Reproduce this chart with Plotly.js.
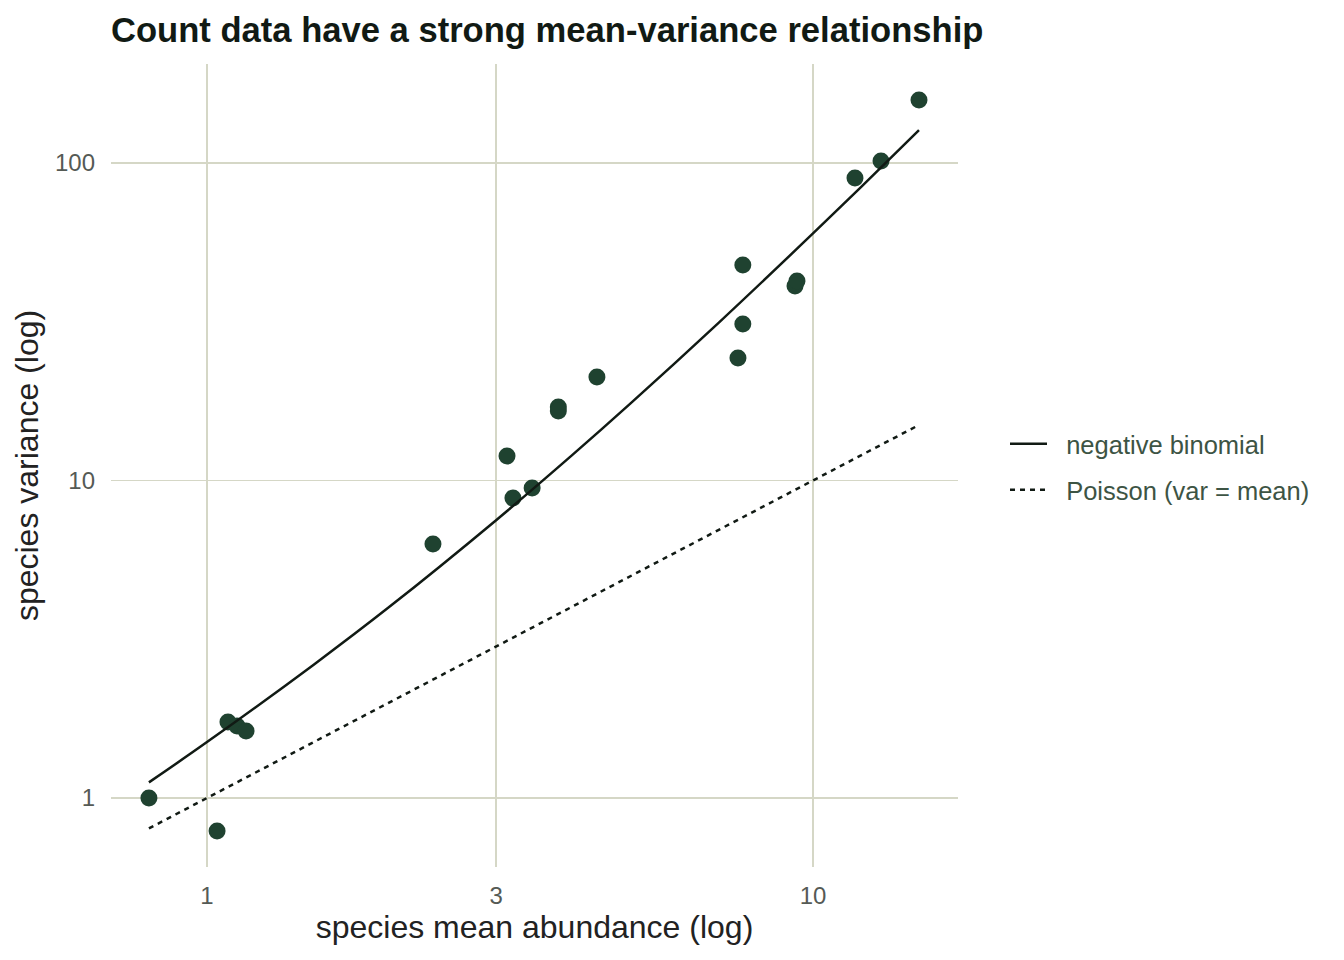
<!DOCTYPE html>
<html>
<head>
<meta charset="utf-8">
<script src="https://cdn.plot.ly/plotly-3.0.1.min.js"></script>
<style>html,body{margin:0;padding:0;background:#fff;}#chart{width:1344px;height:960px;}</style>
</head>
<body>
<div id="chart"></div>
<script>
// Observed species (mean, variance)
const speciesMean = [0.802, 1.039, 1.083, 1.121, 1.160, 2.36, 3.127, 3.198, 3.44, 3.80, 3.80, 4.40, 7.52, 7.66, 7.66, 9.34, 9.41, 11.73, 12.95, 14.96];
const speciesVar  = [1.00, 0.787, 1.735, 1.686, 1.626, 6.31, 11.95, 8.81, 9.47, 17.04, 16.55, 21.18, 24.3, 47.7, 31.1, 41.0, 42.5, 89.7, 101.5, 157.9];

// Negative binomial fitted curve
const nbMean = [0.802, 1.0, 1.5, 2.0, 3.0, 4.0, 5.0, 7.0, 10.0, 12.0, 14.96];
const nbVar  = [1.12, 1.5, 2.63, 4.0, 7.5, 12.0, 17.5, 31.5, 60.0, 84.0, 126.9];

// Poisson line (var = mean)
const poisMean = [0.802, 1.0, 3.0, 10.0, 14.96];
const poisVar  = [0.802, 1.0, 3.0, 10.0, 14.96];

const xTicks = [1, 3, 10];
const yTicks = [1, 10, 100];

const ptColor = '#1f4230';
const gridColor = '#d5d7c6';

const traces = [
  {x: speciesMean, y: speciesVar, type: 'scatter', mode: 'markers',
   marker: {color: ptColor, size: 17}, showlegend: false, hoverinfo: 'x+y'},
  {x: nbMean, y: nbVar, type: 'scatter', mode: 'lines', name: '&nbsp;&nbsp;negative binomial',
   legendgroup: 'a', line: {color: '#111a14', width: 2.5, shape: 'spline'}},
  {x: poisMean, y: poisVar, type: 'scatter', mode: 'lines', name: '&nbsp;&nbsp;Poisson (var = mean)',
   legendgroup: 'b', line: {color: '#111a14', width: 2.5, dash: '5px,5px'}}
];

const layout = {
  width: 1344, height: 960,
  margin: {l: 111, r: 386, t: 64, b: 93, autoexpand: false},
  paper_bgcolor: '#fff', plot_bgcolor: '#fff',
  font: {family: 'Liberation Sans, Arial, sans-serif'},
  title: {text: '<b>Count data have a strong mean-variance relationship</b>',
          x: 111/1344, xanchor: 'left', xref: 'container', y: 1 - 30/960, yref: 'container', yanchor: 'middle',
          font: {size: 34.6, color: '#111a14'}},
  xaxis: {type: 'log', range: [-0.1584, 1.2393], tickvals: xTicks, ticktext: xTicks.map(String),
          showgrid: true, gridcolor: gridColor, gridwidth: 1.6, zeroline: false, showline: false,
          ticks: '', ticklabelstandoff: 12, automargin: false,
          tickfont: {size: 24, color: '#555a55'},
          title: {text: 'species mean abundance (log)', font: {size: 32, color: '#222'}, standoff: 3}},
  yaxis: {type: 'log', range: [-0.2173, 2.3118], tickvals: yTicks, ticktext: yTicks.map(String),
          showgrid: true, gridcolor: gridColor, gridwidth: 1.6, zeroline: false, showline: false,
          ticks: '', ticklabelstandoff: 15, automargin: false,
          tickfont: {size: 24, color: '#555a55'},
          title: {text: 'species variance (log)', font: {size: 32, color: '#222'}, standoff: 6}},
  legend: {x: (1005-111)/847, xref: 'paper', xanchor: 'left', y: 0.498, yref: 'paper', yanchor: 'middle',
           font: {size: 25.5, color: '#3d5444'}, bgcolor: 'rgba(0,0,0,0)', tracegroupgap: 10,
           itemwidth: 37},
  showlegend: true
};

Plotly.newPlot('chart', traces, layout, {displayModeBar: false, staticPlot: true});
</script>
</body>
</html>
